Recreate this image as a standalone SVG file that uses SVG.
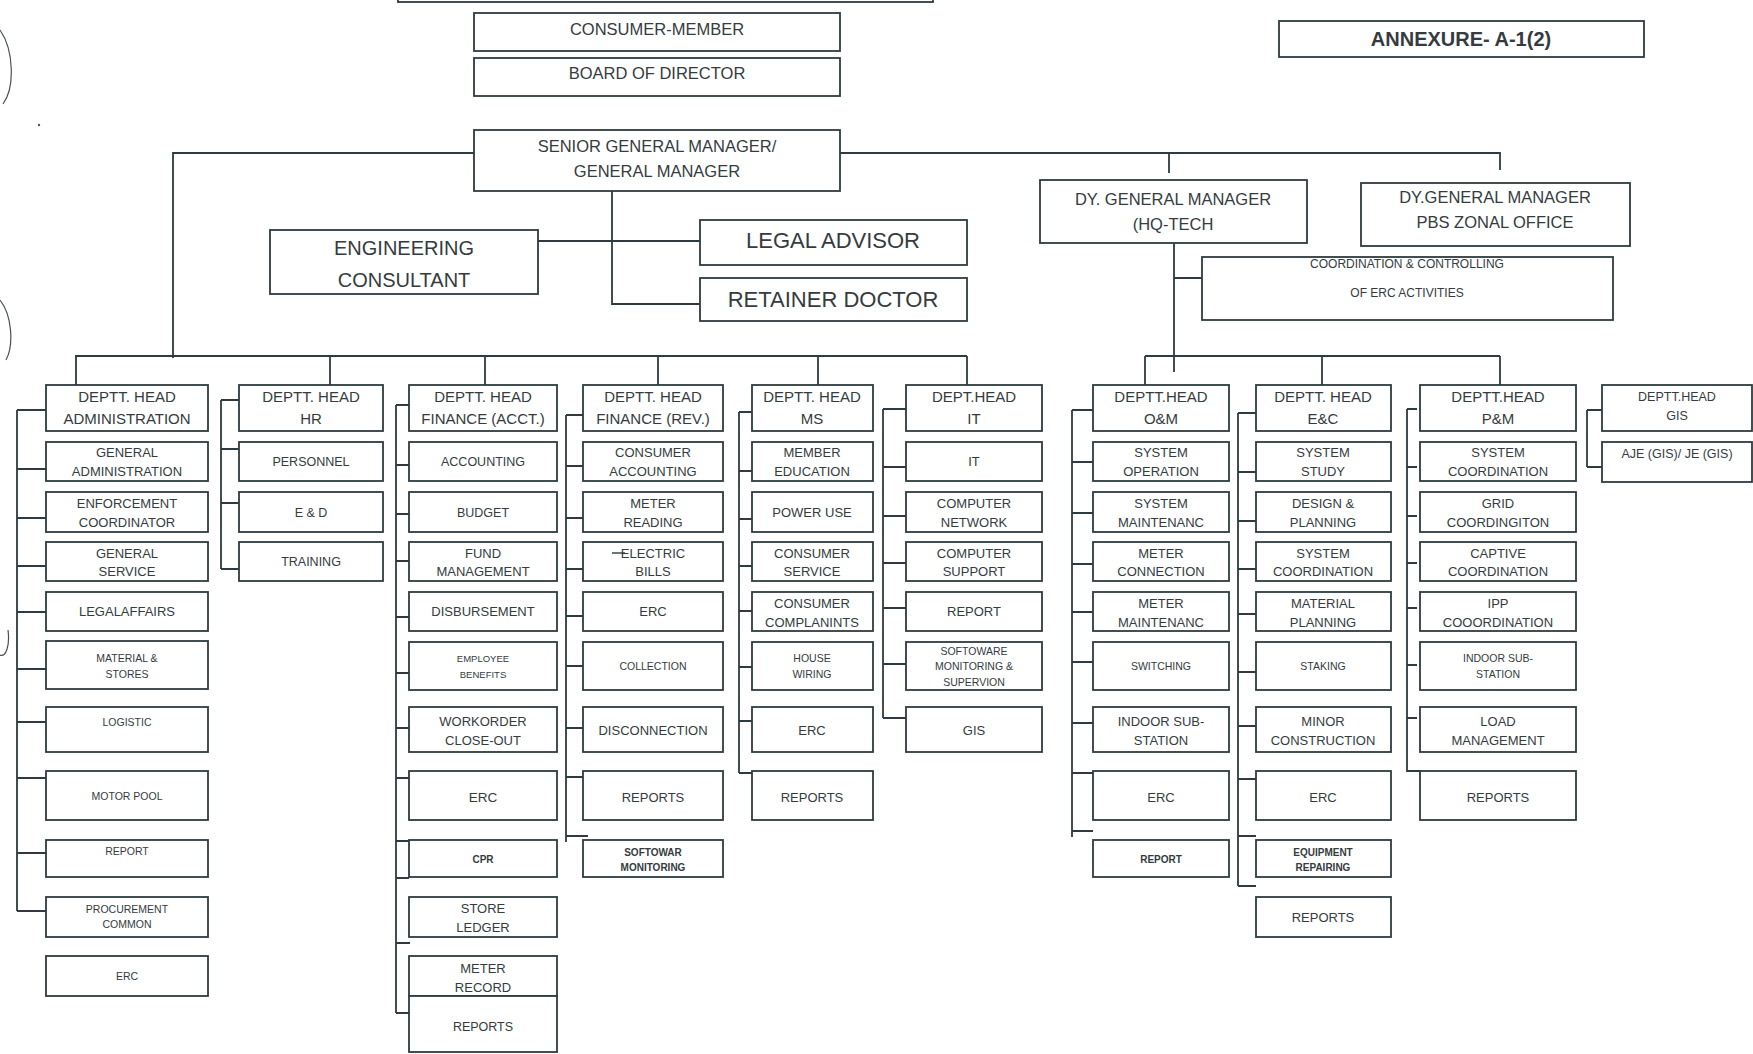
<svg xmlns="http://www.w3.org/2000/svg" width="1753" height="1054" viewBox="0 0 1753 1054">
<style>
.box{fill:#fff;stroke:#2f3b40;stroke-width:1.8}
.c{fill:none;stroke:#2f3b40;stroke-width:1.8}
.mk{fill:none;stroke:#4a4f55;stroke-width:1.2}
text{font-family:"Liberation Sans",Arial,sans-serif;fill:#353b3e;text-anchor:middle}
.h{font-size:15px}
.s{font-size:13px}
.m{font-size:13.5px}
.x{font-size:10.5px}
.b{font-size:10px;font-weight:bold}
.g{font-size:12.5px}
</style>
<rect x="0" y="0" width="1753" height="1054" fill="#fff"/>
<g id="marks">
<path class="mk" d="M0,30 C14,50 15,88 3,104"/>
<path class="mk" d="M0,300 C12,315 14,345 6,360"/>
<path class="mk" d="M8,630 C10,645 6,658 0,655"/>
<circle cx="39" cy="125" r="1.2" fill="#555"/>
</g>
<g id="connectors">
<path class="c" d="M474,153 H173 V358"/>
<path class="c" d="M840,153 H1500 V170 M1169,153 V173"/>
<path class="c" d="M612,191 V304 H700 M538,241 H700"/>
<path class="c" d="M1174,243 V372 M1174,278 H1202"/>
<path class="c" d="M75,356 H967 M76,356 V385 M330,356 V392 M485,356 V385 M658,356 V387 M818,356 V385 M967,356 V385"/>
<path class="c" d="M1145,356 H1500 M1145,356 V387 M1322,356 V389 M1500,356 V387"/>
<path class="c" d="M17,410 V911 M17,410 H46 M17,469 H46 M17,518 H46 M17,566 H46 M17,612 H46 M17,669 H46 M17,722 H46 M17,778 H46 M17,853 H46 M17,911 H46"/>
<path class="c" d="M221,400 V569 M221,400 H239 M221,449 H239 M221,503 H239 M221,569 H239"/>
<path class="c" d="M396,405 V1013 M396,405 H409 M396,465 H409 M396,514 H409 M396,561 H409 M396,617 H409 M396,673 H409 M396,728 H409 M396,778 H409 M396,841 H409 M396,878 H409 M396,943 H410 M396,1013 H409"/>
<path class="c" d="M566,415 V842 M566,415 H588 M566,466 H588 M566,518 H588 M566,569 H588 M566,616 H588 M566,666 H588 M566,728 H588 M566,777 H588 M566,836 H588"/>
<path class="c" d="M739,412 V773 M739,412 H752 M739,471 H752 M739,519 H752 M739,566 H752 M739,611 H752 M739,667 H752 M739,721 H752 M739,773 H752"/>
<path class="c" d="M883,409 V718 M883,409 H906 M883,467 H906 M883,516 H906 M883,563 H906 M883,608 H906 M883,664 H906 M883,718 H906"/>
<path class="c" d="M1072,410 V837 M1072,410 H1093 M1072,462 H1093 M1072,513 H1093 M1072,564 H1093 M1072,612 H1093 M1072,662 H1093 M1072,723 H1093 M1072,773 H1093 M1072,831 H1093"/>
<path class="c" d="M1238,413 V886 M1238,413 H1256 M1238,472 H1256 M1238,521 H1256 M1238,569 H1256 M1238,614 H1256 M1238,672 H1256 M1238,726 H1256 M1238,779 H1256 M1238,836 H1256 M1238,886 H1256"/>
<path class="c" d="M1407,409 V771 H1420 M1407,409 H1417 M1407,467 H1417 M1407,516 H1417 M1407,563 H1417 M1407,608 H1417 M1407,665 H1417 M1407,718 H1417"/>
<path class="c" d="M1587,410 V467 M1587,410 H1602 M1587,467 H1602"/>
</g>
<g id="top-box"><rect class="box" x="398" y="-10" width="535" height="12"/></g>
<g id="consumer-member"><rect class="box" x="474" y="13" width="366" height="38"/><text x="657" y="34.5" style="font-size:16.5px">CONSUMER-MEMBER</text></g>
<g id="board"><rect class="box" x="474" y="58" width="366" height="38"/><text x="657" y="79" style="font-size:16.5px">BOARD OF DIRECTOR</text></g>
<g id="sgm"><rect class="box" x="474" y="130" width="366" height="61"/><text x="657" y="152" style="font-size:16.5px">SENIOR GENERAL MANAGER/</text><text x="657" y="177" style="font-size:16.5px">GENERAL MANAGER</text></g>
<g id="annexure"><rect class="box" x="1279" y="21" width="365" height="36"/><text x="1461" y="46" style="font-size:20px;font-weight:bold">ANNEXURE- A-1(2)</text></g>
<g id="eng-consultant"><rect class="box" x="270" y="230" width="268" height="64"/><text x="404" y="255" style="font-size:20px">ENGINEERING</text><text x="404" y="287" style="font-size:20px">CONSULTANT</text></g>
<g id="legal-advisor"><rect class="box" x="700" y="220" width="267" height="45"/><text x="833" y="248" style="font-size:22px">LEGAL ADVISOR</text></g>
<g id="retainer-doctor"><rect class="box" x="700" y="278" width="267" height="43"/><text x="833" y="307" style="font-size:22px">RETAINER DOCTOR</text></g>
<g id="dygm-hq"><rect class="box" x="1040" y="180" width="267" height="63"/><text x="1173" y="205" style="font-size:16.5px">DY. GENERAL MANAGER</text><text x="1173" y="230" style="font-size:16.5px">(HQ-TECH</text></g>
<g id="dygm-pbs"><rect class="box" x="1361" y="183" width="269" height="63"/><text x="1495" y="203" style="font-size:16.5px">DY.GENERAL MANAGER</text><text x="1495" y="228" style="font-size:16.5px">PBS ZONAL OFFICE</text></g>
<g id="coordination"><rect class="box" x="1202" y="257" width="411" height="63"/><text x="1407" y="268" style="font-size:12px">COORDINATION &amp; CONTROLLING</text><text x="1407" y="297" style="font-size:12px">OF ERC ACTIVITIES</text></g>

<g id="admin">
<g id="admin-head"><rect class="box" x="46" y="385" width="162" height="46"/><text class="h" x="127" y="402">DEPTT. HEAD</text><text class="h" x="127" y="424">ADMINISTRATION</text></g>
<g id="admin-1"><rect class="box" x="46" y="442" width="162" height="39"/><text class="s" x="127" y="457">GENERAL</text><text class="s" x="127" y="476">ADMINISTRATION</text></g>
<g id="admin-2"><rect class="box" x="46" y="492" width="162" height="40"/><text class="s" x="127" y="507.5">ENFORCEMENT</text><text class="s" x="127" y="526.5">COORDINATOR</text></g>
<g id="admin-3"><rect class="box" x="46" y="542" width="162" height="39"/><text class="s" x="127" y="557.5">GENERAL</text><text class="s" x="127" y="575.5">SERVICE</text></g>
<g id="admin-4"><rect class="box" x="46" y="592" width="162" height="39"/><text class="s" x="127" y="616">LEGALAFFAIRS</text></g>
<g id="admin-5"><rect class="box" x="46" y="641" width="162" height="48"/><text class="x" x="127" y="662">MATERIAL &amp;</text><text class="x" x="127" y="677.5">STORES</text></g>
<g id="admin-6"><rect class="box" x="46" y="707" width="162" height="45"/><text class="x" x="127" y="726">LOGISTIC</text></g>
<g id="admin-7"><rect class="box" x="46" y="771" width="162" height="49"/><text class="x" x="127" y="800">MOTOR POOL</text></g>
<g id="admin-8"><rect class="box" x="46" y="840" width="162" height="37"/><text class="x" x="127" y="855">REPORT</text></g>
<g id="admin-9"><rect class="box" x="46" y="897" width="162" height="40"/><text class="x" x="127" y="913">PROCUREMENT</text><text class="x" x="127" y="928">COMMON</text></g>
<g id="admin-10"><rect class="box" x="46" y="956" width="162" height="40"/><text class="x" x="127" y="980">ERC</text></g>
</g>

<g id="hr">
<g id="hr-head"><rect class="box" x="239" y="385" width="144" height="46"/><text class="h" x="311" y="402">DEPTT. HEAD</text><text class="h" x="311" y="424">HR</text></g>
<g id="hr-1"><rect class="box" x="239" y="442" width="144" height="39"/><text class="g" x="311" y="466">PERSONNEL</text></g>
<g id="hr-2"><rect class="box" x="239" y="492" width="144" height="40"/><text class="g" x="311" y="516.5">E &amp; D</text></g>
<g id="hr-3"><rect class="box" x="239" y="542" width="144" height="39"/><text class="g" x="311" y="566">TRAINING</text></g>
</g>

<g id="fin-acct">
<g id="fa-head"><rect class="box" x="409" y="385" width="148" height="46"/><text class="h" x="483" y="402">DEPTT. HEAD</text><text class="h" x="483" y="424">FINANCE (ACCT.)</text></g>
<g id="fa-1"><rect class="box" x="409" y="442" width="148" height="39"/><text class="g" x="483" y="466">ACCOUNTING</text></g>
<g id="fa-2"><rect class="box" x="409" y="492" width="148" height="40"/><text class="g" x="483" y="516.5">BUDGET</text></g>
<g id="fa-3"><rect class="box" x="409" y="542" width="148" height="39"/><text class="s" x="483" y="557.5">FUND</text><text class="s" x="483" y="575.5">MANAGEMENT</text></g>
<g id="fa-4"><rect class="box" x="409" y="592" width="148" height="39"/><text class="s" x="483" y="616">DISBURSEMENT</text></g>
<g id="fa-5"><rect class="box" x="409" y="642" width="148" height="48"/><text class="x" x="483" y="662" style="font-size:9.5px">EMPLOYEE</text><text class="x" x="483" y="677.5" style="font-size:9.5px">BENEFITS</text></g>
<g id="fa-6"><rect class="box" x="409" y="707" width="148" height="45"/><text class="s" x="483" y="725.5">WORKORDER</text><text class="s" x="483" y="744.5">CLOSE-OUT</text></g>
<g id="fa-7"><rect class="box" x="409" y="771" width="148" height="49"/><text class="m" x="483" y="802">ERC</text></g>
<g id="fa-8"><rect class="box" x="409" y="840" width="148" height="37"/><text class="b" x="483" y="862.5">CPR</text></g>
<g id="fa-9"><rect class="box" x="409" y="897" width="148" height="40"/><text class="s" x="483" y="912.5">STORE</text><text class="s" x="483" y="931.5">LEDGER</text></g>
<g id="fa-10"><rect class="box" x="409" y="956" width="148" height="40"/><text class="s" x="483" y="972.5">METER</text><text class="s" x="483" y="991.5">RECORD</text></g>
<g id="fa-11"><rect class="box" x="409" y="996" width="148" height="56"/><text class="g" x="483" y="1030.5">REPORTS</text></g>
</g>

<g id="fin-rev">
<g id="fr-head"><rect class="box" x="583" y="385" width="140" height="46"/><text class="h" x="653" y="402">DEPTT. HEAD</text><text class="h" x="653" y="424">FINANCE (REV.)</text></g>
<g id="fr-1"><rect class="box" x="583" y="442" width="140" height="39"/><text class="s" x="653" y="457">CONSUMER</text><text class="s" x="653" y="476">ACCOUNTING</text></g>
<g id="fr-2"><rect class="box" x="583" y="492" width="140" height="40"/><text class="s" x="653" y="507.5">METER</text><text class="s" x="653" y="526.5">READING</text></g>
<g id="fr-3"><rect class="box" x="583" y="542" width="140" height="39"/><text class="s" x="653" y="557.5">ELECTRIC</text><text class="s" x="653" y="575.5">BILLS</text><path class="c" d="M612,553 H625" style="stroke-width:1.4"/></g>
<g id="fr-4"><rect class="box" x="583" y="592" width="140" height="39"/><text class="s" x="653" y="616">ERC</text></g>
<g id="fr-5"><rect class="box" x="583" y="642" width="140" height="48"/><text class="x" x="653" y="670">COLLECTION</text></g>
<g id="fr-6"><rect class="box" x="583" y="707" width="140" height="45"/><text class="s" x="653" y="734.5">DISCONNECTION</text></g>
<g id="fr-7"><rect class="box" x="583" y="771" width="140" height="49"/><text class="s" x="653" y="801.5">REPORTS</text></g>
<g id="fr-8"><rect class="box" x="583" y="840" width="140" height="37"/><text class="b" x="653" y="855.5">SOFTOWAR</text><text class="b" x="653" y="870.5">MONITORING</text></g>
</g>

<g id="ms">
<g id="ms-head"><rect class="box" x="752" y="385" width="121" height="46"/><text class="h" x="812" y="402">DEPTT. HEAD</text><text class="h" x="812" y="424">MS</text></g>
<g id="ms-1"><rect class="box" x="752" y="442" width="121" height="39"/><text class="s" x="812" y="457">MEMBER</text><text class="s" x="812" y="476">EDUCATION</text></g>
<g id="ms-2"><rect class="box" x="752" y="492" width="121" height="40"/><text class="s" x="812" y="516.5">POWER USE</text></g>
<g id="ms-3"><rect class="box" x="752" y="542" width="121" height="39"/><text class="s" x="812" y="557.5">CONSUMER</text><text class="s" x="812" y="575.5">SERVICE</text></g>
<g id="ms-4"><rect class="box" x="752" y="592" width="121" height="39"/><text class="s" x="812" y="607.5">CONSUMER</text><text class="s" x="812" y="626.5">COMPLANINTS</text></g>
<g id="ms-5"><rect class="box" x="752" y="642" width="121" height="48"/><text class="x" x="812" y="662">HOUSE</text><text class="x" x="812" y="677.5">WIRING</text></g>
<g id="ms-6"><rect class="box" x="752" y="707" width="121" height="45"/><text class="s" x="812" y="734.5">ERC</text></g>
<g id="ms-7"><rect class="box" x="752" y="771" width="121" height="49"/><text class="s" x="812" y="801.5">REPORTS</text></g>
</g>

<g id="it">
<g id="it-head"><rect class="box" x="906" y="385" width="136" height="46"/><text class="h" x="974" y="402">DEPT.HEAD</text><text class="h" x="974" y="424">IT</text></g>
<g id="it-1"><rect class="box" x="906" y="442" width="136" height="39"/><text class="s" x="974" y="466">IT</text></g>
<g id="it-2"><rect class="box" x="906" y="492" width="136" height="40"/><text class="s" x="974" y="507.5">COMPUTER</text><text class="s" x="974" y="526.5">NETWORK</text></g>
<g id="it-3"><rect class="box" x="906" y="542" width="136" height="39"/><text class="s" x="974" y="557.5">COMPUTER</text><text class="s" x="974" y="575.5">SUPPORT</text></g>
<g id="it-4"><rect class="box" x="906" y="592" width="136" height="39"/><text class="s" x="974" y="616">REPORT</text></g>
<g id="it-5"><rect class="box" x="906" y="642" width="136" height="48"/><text class="x" x="974" y="655">SOFTOWARE</text><text class="x" x="974" y="670">MONITORING &amp;</text><text class="x" x="974" y="686">SUPERVION</text></g>
<g id="it-6"><rect class="box" x="906" y="707" width="136" height="45"/><text class="s" x="974" y="734.5">GIS</text></g>
</g>

<g id="om">
<g id="om-head"><rect class="box" x="1093" y="385" width="136" height="46"/><text class="h" x="1161" y="402">DEPTT.HEAD</text><text class="h" x="1161" y="424">O&amp;M</text></g>
<g id="om-1"><rect class="box" x="1093" y="442" width="136" height="39"/><text class="s" x="1161" y="457">SYSTEM</text><text class="s" x="1161" y="476">OPERATION</text></g>
<g id="om-2"><rect class="box" x="1093" y="492" width="136" height="40"/><text class="s" x="1161" y="507.5">SYSTEM</text><text class="s" x="1161" y="526.5">MAINTENANC</text></g>
<g id="om-3"><rect class="box" x="1093" y="542" width="136" height="39"/><text class="s" x="1161" y="557.5">METER</text><text class="s" x="1161" y="575.5">CONNECTION</text></g>
<g id="om-4"><rect class="box" x="1093" y="592" width="136" height="39"/><text class="s" x="1161" y="607.5">METER</text><text class="s" x="1161" y="626.5">MAINTENANC</text></g>
<g id="om-5"><rect class="box" x="1093" y="642" width="136" height="48"/><text class="x" x="1161" y="670">SWITCHING</text></g>
<g id="om-6"><rect class="box" x="1093" y="707" width="136" height="45"/><text class="s" x="1161" y="725.5">INDOOR SUB-</text><text class="s" x="1161" y="744.5">STATION</text></g>
<g id="om-7"><rect class="box" x="1093" y="771" width="136" height="49"/><text class="s" x="1161" y="801.5">ERC</text></g>
<g id="om-8"><rect class="box" x="1093" y="840" width="136" height="37"/><text class="b" x="1161" y="862.5">REPORT</text></g>
</g>

<g id="ec">
<g id="ec-head"><rect class="box" x="1256" y="385" width="135" height="46"/><text class="h" x="1323" y="402">DEPTT. HEAD</text><text class="h" x="1323" y="424">E&amp;C</text></g>
<g id="ec-1"><rect class="box" x="1256" y="442" width="135" height="39"/><text class="s" x="1323" y="457">SYSTEM</text><text class="s" x="1323" y="476">STUDY</text></g>
<g id="ec-2"><rect class="box" x="1256" y="492" width="135" height="40"/><text class="s" x="1323" y="507.5">DESIGN &amp;</text><text class="s" x="1323" y="526.5">PLANNING</text></g>
<g id="ec-3"><rect class="box" x="1256" y="542" width="135" height="39"/><text class="s" x="1323" y="557.5">SYSTEM</text><text class="s" x="1323" y="575.5">COORDINATION</text></g>
<g id="ec-4"><rect class="box" x="1256" y="592" width="135" height="39"/><text class="s" x="1323" y="607.5">MATERIAL</text><text class="s" x="1323" y="626.5">PLANNING</text></g>
<g id="ec-5"><rect class="box" x="1256" y="642" width="135" height="48"/><text class="x" x="1323" y="670">STAKING</text></g>
<g id="ec-6"><rect class="box" x="1256" y="707" width="135" height="45"/><text class="s" x="1323" y="725.5">MINOR</text><text class="s" x="1323" y="744.5">CONSTRUCTION</text></g>
<g id="ec-7"><rect class="box" x="1256" y="771" width="135" height="49"/><text class="s" x="1323" y="801.5">ERC</text></g>
<g id="ec-8"><rect class="box" x="1256" y="840" width="135" height="37"/><text class="b" x="1323" y="855.5">EQUIPMENT</text><text class="b" x="1323" y="870.5">REPAIRING</text></g>
<g id="ec-9"><rect class="box" x="1256" y="897" width="135" height="40"/><text class="s" x="1323" y="922">REPORTS</text></g>
</g>

<g id="pm">
<g id="pm-head"><rect class="box" x="1420" y="385" width="156" height="46"/><text class="h" x="1498" y="402">DEPTT.HEAD</text><text class="h" x="1498" y="424">P&amp;M</text></g>
<g id="pm-1"><rect class="box" x="1420" y="442" width="156" height="39"/><text class="s" x="1498" y="457">SYSTEM</text><text class="s" x="1498" y="476">COORDINATION</text></g>
<g id="pm-2"><rect class="box" x="1420" y="492" width="156" height="40"/><text class="s" x="1498" y="507.5">GRID</text><text class="s" x="1498" y="526.5">COORDINGITON</text></g>
<g id="pm-3"><rect class="box" x="1420" y="542" width="156" height="39"/><text class="s" x="1498" y="557.5">CAPTIVE</text><text class="s" x="1498" y="575.5">COORDINATION</text></g>
<g id="pm-4"><rect class="box" x="1420" y="592" width="156" height="39"/><text class="s" x="1498" y="607.5">IPP</text><text class="s" x="1498" y="626.5">COOORDINATION</text></g>
<g id="pm-5"><rect class="box" x="1420" y="642" width="156" height="48"/><text class="x" x="1498" y="662">INDOOR SUB-</text><text class="x" x="1498" y="677.5">STATION</text></g>
<g id="pm-6"><rect class="box" x="1420" y="707" width="156" height="45"/><text class="s" x="1498" y="725.5">LOAD</text><text class="s" x="1498" y="744.5">MANAGEMENT</text></g>
<g id="pm-7"><rect class="box" x="1420" y="771" width="156" height="49"/><text class="s" x="1498" y="801.5">REPORTS</text></g>
</g>

<g id="gis">
<g id="gis-head"><rect class="box" x="1602" y="385" width="150" height="46"/><text class="g" x="1677" y="400.5">DEPTT.HEAD</text><text class="g" x="1677" y="419.5">GIS</text></g>
<g id="gis-1"><rect class="box" x="1602" y="442" width="150" height="40"/><text class="g" x="1677" y="457.5">AJE (GIS)/ JE (GIS)</text></g>
</g>
</svg>
